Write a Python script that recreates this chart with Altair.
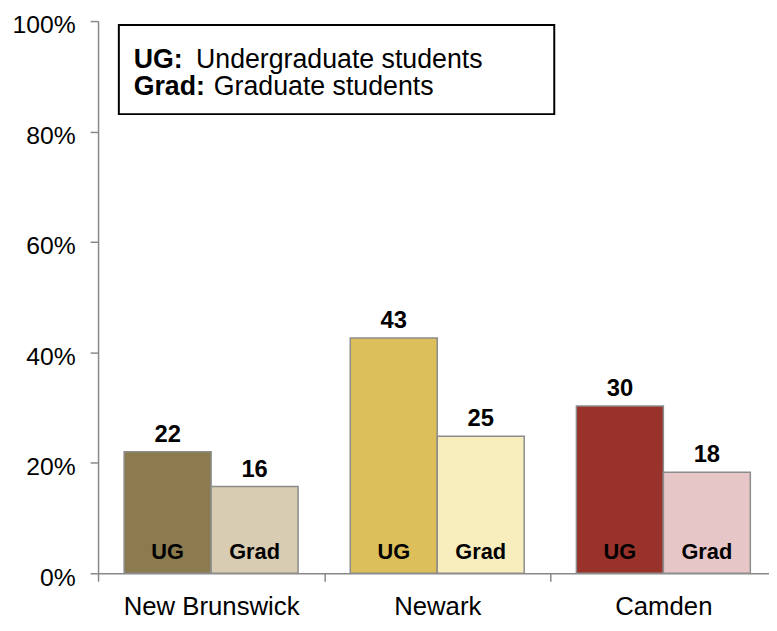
import altair as alt
import pandas as pd

# ---- data ----
campuses = ["New Brunswick", "Newark", "Camden"]
levels = ["UG", "Grad"]
ug_share = [0.220, 0.426, 0.303]
grad_share = [0.157, 0.248, 0.183]
ug_labels = ["22", "43", "30"]
grad_labels = ["16", "25", "18"]
ug_colors = ["#8B7B4F", "#DCBF5A", "#98322A"]
grad_colors = ["#D8CCB2", "#F8EDBD", "#E7C6C8"]
y_ticks = [0, 0.2, 0.4, 0.6, 0.8, 1.0]
legend_keys = ["UG:", "Grad:"]
legend_texts = ["Undergraduate students", "Graduate students"]

rows = []
for i, c in enumerate(campuses):
    rows.append({"campus": c, "level": "UG", "share": ug_share[i],
                 "label": ug_labels[i], "color": ug_colors[i]})
    rows.append({"campus": c, "level": "Grad", "share": grad_share[i],
                 "label": grad_labels[i], "color": grad_colors[i]})
df = pd.DataFrame(rows)

FONT = "Liberation Sans"
AXIS_GREY = "#888888"

x_enc = alt.X(
    "campus:N", sort=campuses,
    scale=alt.Scale(range=[0, 685.5], paddingInner=0, paddingOuter=0),
    axis=alt.Axis(title=None, labelAngle=0, tickBand="extent",
                  labelAlign="center", tickSize=8, tickColor=AXIS_GREY,
                  tickWidth=1.5, domainColor=AXIS_GREY, domainWidth=1.5,
                  labelFont=FONT, labelFontSize=26, labelColor="black",
                  labelPadding=13),
)
xo_enc = alt.XOffset("level:N", sort=levels,
                     scale=alt.Scale(paddingInner=0, paddingOuter=0.3))
y_enc = alt.Y(
    "share:Q",
    scale=alt.Scale(domain=[0, 1], nice=False, zero=True),
    axis=alt.Axis(values=y_ticks, format=".0%", title=None, grid=False,
                  tickSize=8, tickColor=AXIS_GREY, tickWidth=1.5,
                  domainColor=AXIS_GREY, domainWidth=1.5,
                  labelFont=FONT, labelFontSize=25, labelColor="black",
                  labelPadding=15, labelOffset=4),
)

base = alt.Chart(df)
bars = base.mark_bar(stroke="#8C8C8C", strokeWidth=1.5).encode(
    x=x_enc, xOffset=xo_enc, y=y_enc,
    color=alt.Color("color:N", scale=None),
)
values = base.mark_text(font=FONT, fontWeight="bold", fontSize=24,
                        baseline="alphabetic", dy=-10, color="black").encode(
    x=x_enc, xOffset=xo_enc, y=y_enc, text="label:N",
)
inner = base.mark_text(font=FONT, fontWeight="bold", fontSize=22,
                       baseline="alphabetic", color="black").encode(
    x=x_enc, xOffset=xo_enc, y=alt.value(543.5), text="level:N",
)

one = pd.DataFrame({"k": [0]})
box = alt.Chart(one).mark_rect(fill="white", stroke="black", strokeWidth=2).encode(
    x=alt.value(21), x2=alt.value(461), y=alt.value(4), y2=alt.value(94)
)

def legend_text(txt, xpos, ypos, weight):
    return alt.Chart(pd.DataFrame({"t": [txt]})).mark_text(
        font=FONT, fontSize=27, fontWeight=weight, align="left",
        baseline="alphabetic", color="black"
    ).encode(x=alt.value(xpos), y=alt.value(ypos), text="t:N")

leg = [
    legend_text(legend_keys[0], 36, 47, "bold"),
    legend_text(legend_texts[0], 99, 47, "normal"),
    legend_text(legend_keys[1], 36, 75, "bold"),
    legend_text(legend_texts[1], 117, 75, "normal"),
]

chart = alt.layer(bars, values, inner, box, *leg).properties(
    width=678, height=558,
    autosize=alt.AutoSizeParams(type="none"),
    padding={"left": 91, "top": 10, "right": 0, "bottom": 47},
).configure_view(stroke=None)

chart.save("out.html", embed_options={"renderer": "svg", "actions": False})
